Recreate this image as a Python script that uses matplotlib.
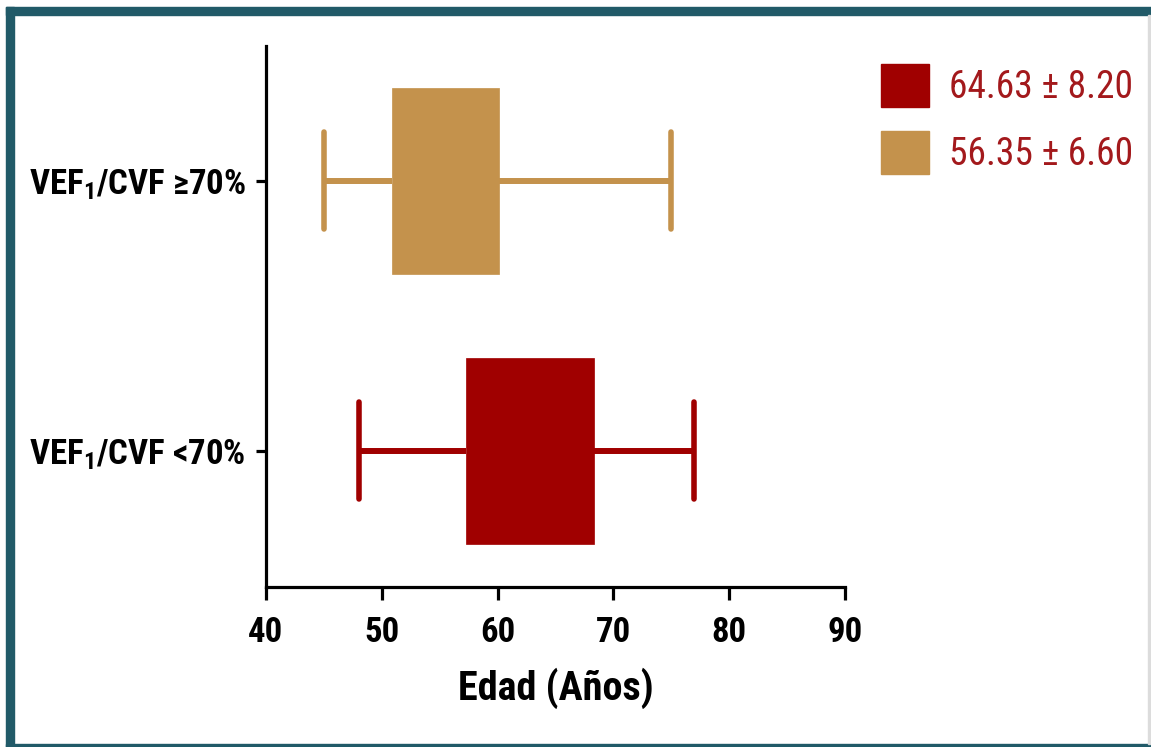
import matplotlib
matplotlib.use("Agg")
import matplotlib.pyplot as plt
from matplotlib import font_manager as fm
from matplotlib.patches import Patch, Rectangle

# ---- data ----
categories = ["VEF$_\\mathbf{1}$/CVF <70%", "VEF$_\\mathbf{1}$/CVF \u226570%"]
whisker_low = [48.0, 45.0]
q1 = [57.3, 50.9]
q3 = [68.3, 60.1]
whisker_high = [77.0, 75.0]
means = [64.63, 56.35]
legend_labels = ["64.63 \u00b1 8.20", "56.35 \u00b1 6.60"]
colors = ["#a00000", "#c4924c"]
x_ticks = [40, 50, 60, 70, 80, 90]
x_label = "Edad (Años)"

# ---- pick a narrow font that is installed ----
entries = fm.fontManager.ttflist
def has_bold(name):
    return any(f.name == name and str(f.weight) in ("700", "bold") for f in entries)
candidates = ["Liberation Sans Narrow", "Arial Narrow", "Roboto Condensed",
              "PT Sans Narrow", "Asap Condensed", "Barlow Semi Condensed"]
NARROW = "DejaVu Sans"
for c in candidates:
    if has_bold(c):
        NARROW = c
        break

plt.rcParams["font.family"] = [NARROW, "DejaVu Sans"]
plt.rcParams["mathtext.fontset"] = "custom"
plt.rcParams["mathtext.rm"] = NARROW + ":bold"
plt.rcParams["mathtext.bf"] = NARROW + ":bold"
plt.rcParams["mathtext.it"] = NARROW + ":bold"

W, H = 1151, 747
fig = plt.figure(figsize=(W / 100, H / 100), dpi=100)
fig.patch.set_facecolor("white")

left = 266 / W
right = 845 / W
bottom = 1 - 587 / H
top = 1 - 46 / H
ax = fig.add_axes([left, bottom, right - left, top - bottom])

positions = [1, 2]
for i in range(len(categories)):
    c = colors[i]
    s = dict(whislo=whisker_low[i], q1=q1[i], med=means[i],
             q3=q3[i], whishi=whisker_high[i], fliers=[])
    ax.bxp([s], positions=[positions[i]], vert=False, widths=0.69,
           capwidths=0.36, patch_artist=True, showfliers=False,
           boxprops=dict(facecolor=c, edgecolor=c, linewidth=0.5),
           whiskerprops=dict(color=c, linewidth=4.3, solid_capstyle="butt"),
           capprops=dict(color=c, linewidth=4.0, solid_capstyle="round"),
           medianprops=dict(linewidth=0))

ax.set_xlim(40, 90)
ax.set_ylim(0.495, 2.5)
ax.set_xticks(x_ticks)
ax.set_xticklabels([str(t) for t in x_ticks])
ax.set_yticks(positions)
ax.set_yticklabels(categories)

for sp in ["top", "right"]:
    ax.spines[sp].set_visible(False)
for sp in ["left", "bottom"]:
    ax.spines[sp].set_linewidth(2.3)
    ax.spines[sp].set_color("black")

ax.tick_params(axis="x", length=9, width=2.3, pad=12, labelsize=25)
ax.tick_params(axis="y", length=7.5, width=2.3, pad=7, labelsize=25)
for lab in ax.get_xticklabels() + ax.get_yticklabels():
    lab.set_fontweight("bold")

ax.set_xlabel(x_label, fontsize=29, fontweight="bold", labelpad=13)

handles = [Patch(facecolor=colors[i], edgecolor=colors[i]) for i in range(2)]
fig.legend(handles, legend_labels, loc="upper left",
           bbox_to_anchor=(881 / W, 1 - 64 / H), frameon=False,
           fontsize=27, labelcolor="#a3191c", handlelength=1.28,
           handleheight=1.39, handletextpad=0.53, labelspacing=0.63,
           borderpad=0, borderaxespad=0)

# ---- frame around figure ----
teal = "#215a68"
fig.patches.append(Rectangle((6 / W, 1 - 15 / H), 1 - 6 / W, 8 / H,
                             transform=fig.transFigure, color=teal, zorder=0))
fig.patches.append(Rectangle((6 / W, 0), 8 / W, 1 - 7 / H,
                             transform=fig.transFigure, color=teal, zorder=0))
fig.patches.append(Rectangle((6 / W, 0), 1 - 6 / W, 3 / H,
                             transform=fig.transFigure, color=teal, zorder=0))
fig.patches.append(Rectangle((1148 / W, 3 / H), 2 / W, 1 - 18 / H,
                             transform=fig.transFigure, color="#dcdcdc", zorder=0))

fig.savefig("out.png", dpi=100)
